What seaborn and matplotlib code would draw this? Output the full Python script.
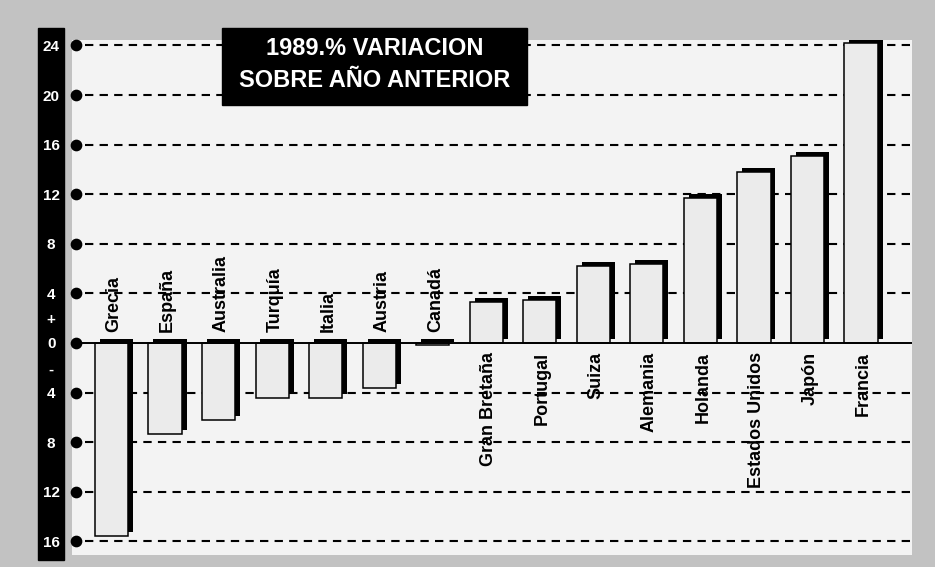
import numpy as np
import matplotlib
matplotlib.use('Agg')
import matplotlib.pyplot as plt
import seaborn as sns
from matplotlib.patches import Rectangle

# datos
paises = ['Grecia', 'España', 'Australia', 'Turquía', 'Italia', 'Austria', 'Canadá',
          'Gran Bretaña', 'Portugal', 'Suiza', 'Alemania', 'Holanda',
          'Estados Unidos', 'Japón', 'Francia']
variacion = [-15.6, -7.3, -6.2, -4.4, -4.4, -3.6, -0.2,
             3.3, 3.5, 6.2, 6.4, 11.7, 13.8, 15.1, 24.2]
marcas = [-16, -12, -8, -4, 4, 8, 12, 16, 20, 24]
titulo = '1989.% VARIACION\nSOBRE AÑO ANTERIOR'

plt.rcParams['font.family'] = ['Liberation Sans', 'DejaVu Sans']

W, H = 935, 567


def px(x0, y0, x1, y1):
    # caja en píxeles -> fracción de figura [l, b, w, h]
    return [x0 / W, 1 - y1 / H, (x1 - x0) / W, (y1 - y0) / H]


fig = plt.figure(figsize=(9.35, 5.67), dpi=100)
fig.patch.set_facecolor('#c2c2c2')

ax = fig.add_axes(px(72, 40, 912, 555))
ax.set_facecolor('#f3f3f3')

n = len(paises)
ancho = 0.62
dx, dy = 0.093, 0.32

# sombra negra desplazada
ax.bar(np.arange(n) + dx, variacion, width=ancho, bottom=dy, color='black', zorder=2)
sns.barplot(x=paises, y=variacion, color='#ebebeb', edgecolor='black', linewidth=1.1,
            width=ancho, saturation=1, zorder=3, ax=ax)

ax.set_xlim(-0.738, 14.953)
ax.set_ylim(-17.1, 24.44)

# líneas de rejilla discontinuas y línea cero
ax.hlines(marcas, -0.5, 14.953, colors='black', linestyles=(0, (4, 3)), lw=1.5, zorder=1)
ax.hlines(0, -0.6, 14.953, colors='black', lw=1.4, zorder=4)
ax.scatter([-0.663] * (len(marcas) + 1), marcas + [0], s=55, color='black',
           zorder=5, clip_on=False)

# etiquetas de países
for i, (p, v) in enumerate(zip(paises, variacion)):
    if v < 0:
        ax.text(i + 0.05, 0.85, p, rotation=90, ha='center', va='bottom',
                fontsize=13, fontweight='bold', zorder=6)
    else:
        ax.text(i + 0.05, -0.7, p, rotation=90, ha='center', va='top',
                fontsize=13, fontweight='bold', zorder=6)

# eje vertical en franja negra
ticks = marcas + [0, 2, -2]
etiquetas = [str(abs(t)) for t in marcas] + ['0', '+', '-']
ax.set_yticks(ticks)
ax.set_yticklabels(etiquetas)
ax.tick_params(axis='y', length=0, pad=15, labelcolor='white', labelsize=11)
for t in ax.get_yticklabels():
    t.set_horizontalalignment('center')
    t.set_fontweight('bold')
ax.set_xticks([])
ax.set_xlabel('')
ax.set_ylabel('')
for s in ax.spines.values():
    s.set_visible(False)

fig.add_artist(Rectangle(px(38, 28, 64, 560)[:2], 26 / W, 532 / H,
                         transform=fig.transFigure, color='black', zorder=-1))

# recuadro del título
fig.add_artist(Rectangle(px(222, 28, 527, 105)[:2], 305 / W, 77 / H,
                         transform=fig.transFigure, color='black', zorder=5))
fig.text(375 / W, 1 - 64.5 / H, titulo, ha='center', va='center', color='white',
         fontsize=17, fontweight='bold', linespacing=1.45, zorder=6)

fig.savefig('out.png', dpi=100, facecolor=fig.get_facecolor())
